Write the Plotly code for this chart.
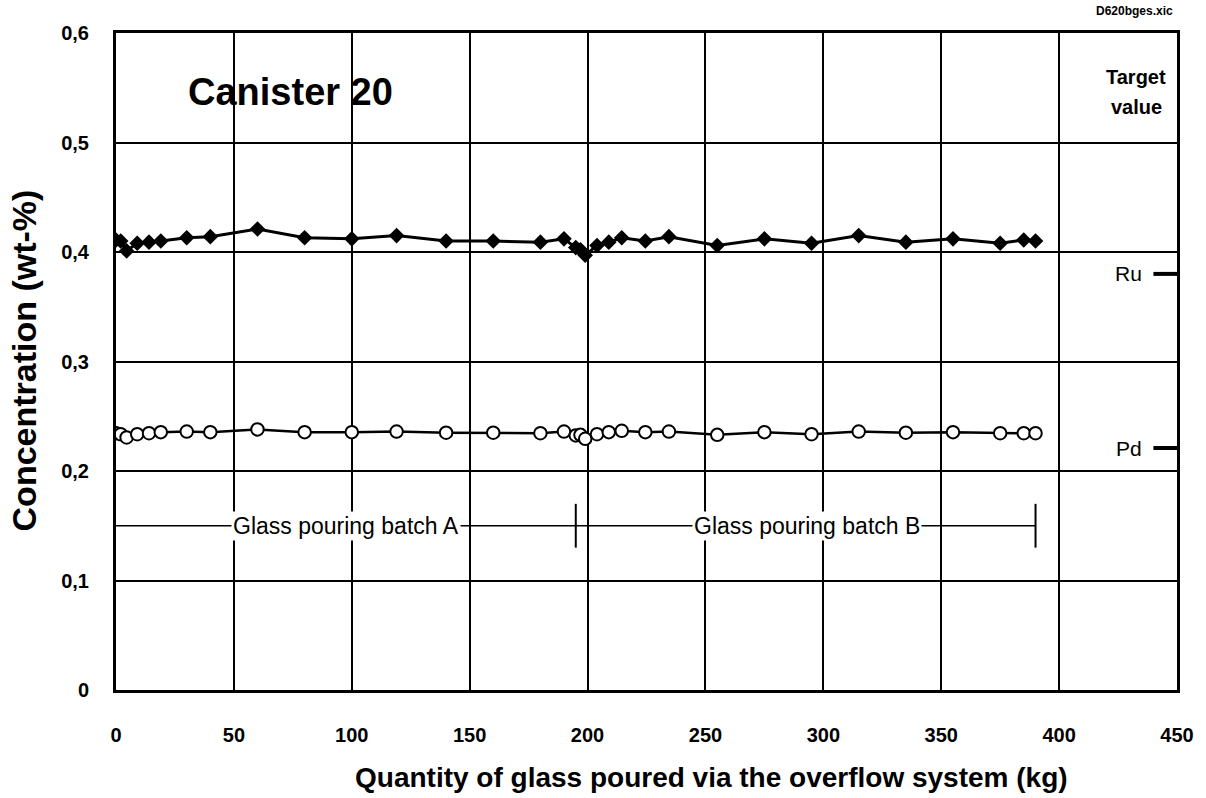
import plotly.graph_objects as go

# ---- data ----
qty_kg = [0, 2, 4.5, 9, 14, 19, 30, 40, 60, 80, 100, 119, 140, 160, 180, 190,
          195, 197, 199, 204, 209, 214.5, 224.5, 234.5, 255, 275, 295, 315, 335,
          355, 375, 385, 390]
ru_wt = [0.411, 0.410, 0.401, 0.408, 0.409, 0.410, 0.413, 0.414, 0.421, 0.413,
         0.412, 0.415, 0.410, 0.410, 0.409, 0.412, 0.404, 0.402, 0.397, 0.406,
         0.409, 0.413, 0.410, 0.414, 0.406, 0.412, 0.408, 0.415, 0.409, 0.412,
         0.408, 0.411, 0.410]
pd_wt = [0.2345, 0.2336, 0.2306, 0.2336, 0.2345, 0.2355, 0.236, 0.2355, 0.238,
         0.2355, 0.2355, 0.236, 0.235, 0.235, 0.2345, 0.236, 0.2325, 0.233,
         0.2294, 0.2336, 0.2355, 0.2367, 0.2355, 0.236, 0.233, 0.2355, 0.2336,
         0.236, 0.235, 0.2355, 0.2345, 0.2345, 0.2345]

target_ru = 0.38
target_pd = 0.221
target_x = [440, 450]

batch_y = 0.15
batch_a = [0, 195]
batch_b = [195, 390]
batch_ticks = [195, 390]
tick_half = 0.02

x_ticks = [0, 50, 100, 150, 200, 250, 300, 350, 400, 450]
y_ticks = [0, 0.1, 0.2, 0.3, 0.4, 0.5, 0.6]
y_ticktext = ["0", "0,1", "0,2", "0,3", "0,4", "0,5", "0,6"]

FONT = "Liberation Sans, Arial, sans-serif"

W, H = 1206, 798
ML, MR, MT, MB = 116, 24, 33, 108
PW, PH = W - ML - MR, H - MT - MB


def px_to_paper(px, py):
    return (px - ML) / PW, (H - MB - py) / PH


fig = go.Figure()

# batch brackets
fig.add_trace(go.Scatter(x=[batch_a[0], batch_b[1]], y=[batch_y, batch_y], mode="lines",
                         line=dict(color="black", width=1.5), hoverinfo="skip", showlegend=False))
for bx in batch_ticks:
    fig.add_trace(go.Scatter(x=[bx, bx], y=[batch_y - tick_half, batch_y + tick_half], mode="lines",
                             line=dict(color="black", width=2), hoverinfo="skip", showlegend=False))

# target dashes
for tv in (target_ru, target_pd):
    fig.add_trace(go.Scatter(x=target_x, y=[tv, tv], mode="lines",
                             line=dict(color="black", width=4), hoverinfo="skip",
                             showlegend=False, cliponaxis=False))

# Ru
fig.add_trace(go.Scatter(x=qty_kg, y=ru_wt, mode="lines+markers", name="Ru",
                         line=dict(color="black", width=3),
                         marker=dict(symbol="diamond", size=12, color="black"),
                         showlegend=False))
# Pd
fig.add_trace(go.Scatter(x=qty_kg, y=pd_wt, mode="lines+markers", name="Pd",
                         line=dict(color="black", width=2.5),
                         marker=dict(symbol="circle", size=12.5, color="white",
                                     line=dict(color="black", width=2)),
                         showlegend=False))

ann = []
ann.append(dict(x=74, y=0.546, xref="x", yref="y", text="Canister 20", showarrow=False,
                font=dict(family=FONT, size=38, color="black", weight="bold")))
ann.append(dict(x=432.8, y=0.5598, xref="x", yref="y", text="Target", showarrow=False,
                font=dict(family=FONT, size=20, color="black", weight="bold")))
ann.append(dict(x=432.8, y=0.5324, xref="x", yref="y", text="value", showarrow=False,
                font=dict(family=FONT, size=20, color="black", weight="bold")))
ann.append(dict(x=436, y=target_ru, xref="x", yref="y", text="Ru", showarrow=False,
                xanchor="right", font=dict(family=FONT, size=21, color="black")))
ann.append(dict(x=436, y=target_pd, xref="x", yref="y", text="Pd", showarrow=False,
                xanchor="right", font=dict(family=FONT, size=21, color="black")))
ann.append(dict(x=97.5, y=batch_y, xref="x", yref="y", text="Glass pouring batch A", showarrow=False,
                bgcolor="white", borderpad=1, font=dict(family=FONT, size=23, color="black")))
ann.append(dict(x=293, y=batch_y, xref="x", yref="y", text="Glass pouring batch B", showarrow=False,
                bgcolor="white", borderpad=1, font=dict(family=FONT, size=23, color="black")))

px_, py_ = px_to_paper(1180, 11)
ann.append(dict(x=px_, y=py_, xref="paper", yref="paper", text="D620bges.xic", showarrow=False,
                xanchor="right", yanchor="middle",
                font=dict(family=FONT, size=12, color="black", weight="bold")))

# axis titles (placed as in the reference)
px_, py_ = px_to_paper(714, 777)
ann.append(dict(x=px_, y=py_, xref="paper", yref="paper",
                text="Quantity of glass poured via the overflow system (kg)", showarrow=False,
                xanchor="center", yanchor="middle",
                font=dict(family=FONT, size=28, color="black", weight="bold")))
px_, py_ = px_to_paper(24, 360)
ann.append(dict(x=px_, y=py_, xref="paper", yref="paper", text="Concentration (wt-%)",
                showarrow=False, textangle=-90, xanchor="center", yanchor="middle",
                font=dict(family=FONT, size=34, color="black", weight="bold")))

fig.update_layout(
    width=W, height=H,
    margin=dict(l=ML, r=MR, t=MT, b=MB),
    paper_bgcolor="white", plot_bgcolor="white",
    annotations=ann,
)

fig.update_xaxes(
    range=[0, 450], tickvals=x_ticks, showgrid=True, gridcolor="black", gridwidth=2,
    showline=True, linecolor="black", linewidth=3, mirror=True, zeroline=False,
    ticks="", ticklabelstandoff=25,
    tickfont=dict(family=FONT, size=20, color="black", weight="bold"),
)
fig.update_yaxes(
    range=[0, 0.6], tickvals=y_ticks, ticktext=y_ticktext, showgrid=True, gridcolor="black",
    gridwidth=2, showline=True, linecolor="black", linewidth=3, mirror=True, zeroline=False,
    ticks="", ticklabelstandoff=20,
    tickfont=dict(family=FONT, size=20, color="black", weight="bold"),
)

fig.write_html("out.html")
